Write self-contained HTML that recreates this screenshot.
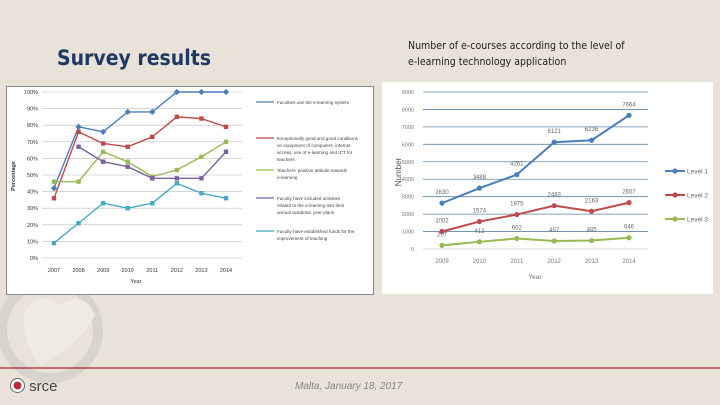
<!DOCTYPE html>
<html><head><meta charset="utf-8"><style>
body{margin:0;width:720px;height:405px;overflow:hidden;background:#e9e2d8;font-family:"Liberation Sans",sans-serif;position:relative}
.abs{position:absolute}
</style></head><body>
<svg class="abs" style="left:0;top:0" width="720" height="405">
 <g opacity="0.5">
  <circle cx="50" cy="330" r="48" fill="none" stroke="#c9c6c2" stroke-width="10"/>
  <path d="M25 310 Q40 290 60 305 Q85 290 95 315 Q80 345 40 365 Q20 340 25 310Z" fill="#f5f3f0"/>
 </g>
 <line x1="0" y1="368" x2="720" y2="368" stroke="#a8232a" stroke-width="1.2"/>
</svg>
<div class="abs" style="left:57px;top:46px;font-size:21px;font-weight:bold;color:#1f3864;font-family:'DejaVu Sans Condensed','Liberation Sans',sans-serif">Survey results</div>
<div class="abs" style="left:408px;top:38px;font-size:10.5px;line-height:16px;color:#222;font-family:'DejaVu Sans Condensed','Liberation Sans',sans-serif">Number of e-courses according to the level of<br>e-learning technology application</div>
<div class="abs" style="left:295px;top:381px;font-size:10px;font-style:italic;color:#888">Malta, January 18, 2017</div>
<div class="abs" style="left:10px;top:378px;font-size:15px;color:#444"><span style="display:inline-block;width:13px;height:13px;border-radius:50%;border:1.5px solid #666;background:radial-gradient(#c0283a 40%,#fff 45%);vertical-align:-2px"></span> srce</div>

<svg class="abs" id="left" style="left:6px;top:86px" width="368" height="209"></svg>
<svg class="abs" id="right" style="left:382px;top:82px" width="331" height="212"></svg>

<script>
const years1=[2007,2008,2009,2010,2011,2012,2013,2014];
const sUse=[42,79,76,88,88,100,100,100];
const sCond=[36,76,69,67,73,85,84,79];
const sAtt=[46,46,64,58,49,53,61,70];
const sPlan=[null,67,58,55,48,48,48,64];
const sFund=[9,21,33,30,33,45,39,36];
const ticks1=[0,10,20,30,40,50,60,70,80,90,100];
const legend1=["Faculties use the e-learning system","Exceptionally good and good conditions on equipment of computers, internet access, use of e-learning and ICT for teachers","Teachers' positive attitude towards e-learning","Faculty have included activities related to the e-learning into their annual academic year plans","Faculty have established funds for the improvement of teaching"];

const years2=[2009,2010,2011,2012,2013,2014];
const lvl1=[2630,3488,4261,6121,6236,7664];
const lvl2=[1002,1574,1975,2483,2163,2657];
const lvl3=[207,412,602,457,485,646];
const ticks2=[0,1000,2000,3000,4000,5000,6000,7000,8000,9000];
const legend2=["Level 1","Level 2","Level 3"];
const NS="http://www.w3.org/2000/svg";
function mk(p,t,a){const e=document.createElementNS(NS,t);for(const k in a)e.setAttribute(k,a[k]);p.appendChild(e);return e;}

// left chart
(function(){
 const s=document.getElementById('left');
 mk(s,'rect',{x:0.5,y:0.5,width:367,height:208,fill:'#fff',stroke:'#8a8a8a'});
 const x=i=>48+i*(172/7), y=v=>172-v*1.66;
 ticks1.forEach(t=>{
  const l=mk(s,'line',{x1:36,x2:236,y1:y(t),y2:y(t),stroke:'#bbb','stroke-width':0.6});
  
  const tx=mk(s,'text',{x:32,y:y(t)+2,'font-size':5.5,'text-anchor':'end',fill:'#333'});tx.textContent=t+'%';
  
 });
 years1.forEach((yr,i)=>{const tx=mk(s,'text',{x:x(i),y:186,'font-size':5.5,'text-anchor':'middle',fill:'#333'});tx.textContent=yr;
  });
 const xt=mk(s,'text',{x:130,y:197,'font-size':5.5,'text-anchor':'middle',fill:'#333'});xt.textContent='Year';
 
 const yt=mk(s,'text',{x:9,y:90,'font-size':5.5,'text-anchor':'middle',fill:'#333',transform:'rotate(-90 9 90)','font-weight':'bold'});yt.textContent='Percentage';
 
 const series=[[sUse,'#4a7ebb'],[sCond,'#be4b48'],[sAtt,'#98b954'],[sPlan,'#7d60a0'],[sFund,'#46aac5']];
 const ly=[16,52,84,112,145];
 series.forEach(([d,c],k)=>{
  let pts=[];d.forEach((v,i)=>{if(v!==null)pts.push(x(i)+','+y(v));});
  const pl=mk(s,'polyline',{points:pts.join(' '),fill:'none',stroke:c,'stroke-width':1.4});
  
  d.forEach((v,i)=>{if(v===null)return;const m=mk(s,'rect',{x:x(i)-2.2,y:y(v)-2.2,width:4.4,height:4.4,fill:c,transform:k==0?`rotate(45 ${x(i)} ${y(v)})`:''});
   });
  const ll=mk(s,'line',{x1:250,x2:268,y1:ly[k],y2:ly[k],stroke:c,'stroke-width':1.2});
  
  const words=legend1[k].split(' ');let lines=[''];words.forEach(w=>{if((lines[lines.length-1]+' '+w).length>38)lines.push(w);else lines[lines.length-1]=(lines[lines.length-1]+' '+w).trim();});
  lines.forEach((ln,j)=>{const tx=mk(s,'text',{x:271,y:ly[k]+2+j*7,'font-size':4.6,fill:'#444'});tx.textContent=ln;
   });
 });
})();

// right chart
(function(){
 const s=document.getElementById('right');
 mk(s,'rect',{x:0,y:0,width:331,height:212,fill:'#fff'});
 const x=i=>60+i*37.4, y=v=>167-v*(157/9000);
 ticks2.forEach(t=>{
  const l=mk(s,'line',{x1:41,x2:266,y1:y(t),y2:y(t),stroke:t==0?'#ccc':'#5e86a8','stroke-width':0.8});
  
  const tx=mk(s,'text',{x:32,y:y(t)+2,'font-size':5.5,'text-anchor':'end',fill:'#777'});tx.textContent=t;
  
 });
 years2.forEach((yr,i)=>{const tx=mk(s,'text',{x:x(i),y:181,'font-size':6,'text-anchor':'middle',fill:'#777'});tx.textContent=yr;
  });
 const xt=mk(s,'text',{x:153,y:197,'font-size':6.5,'text-anchor':'middle',fill:'#777'});xt.textContent='Year';
 
 const yt=mk(s,'text',{x:19,y:90,'font-size':8,'text-anchor':'middle',fill:'#555',transform:'rotate(-90 19 90)'});yt.textContent='Number';
 
 const series=[[lvl1,'#4a7ebb'],[lvl2,'#be4b48'],[lvl3,'#98b954']];
 series.forEach(([d,c],k)=>{
  const pl=mk(s,'polyline',{points:d.map((v,i)=>x(i)+','+y(v)).join(' '),fill:'none',stroke:c,'stroke-width':2});
  
  d.forEach((v,i)=>{const m=mk(s,'circle',{cx:x(i),cy:y(v),r:2.6,fill:c});
   
   const tx=mk(s,'text',{x:x(i),y:y(v)-9,'font-size':6,'text-anchor':'middle',fill:'#666'});tx.textContent=v;
   });
  const ly=[89,113,137][k];
  const ll=mk(s,'line',{x1:283,x2:303,y1:ly,y2:ly,stroke:c,'stroke-width':2});
  
  mk(s,'circle',{cx:293,cy:ly,r:2.6,fill:c});
  const tx=mk(s,'text',{x:305,y:ly+2.5,'font-size':6.5,fill:'#666'});tx.textContent=legend2[k];
  
 });
})();
</script>
</body></html>
